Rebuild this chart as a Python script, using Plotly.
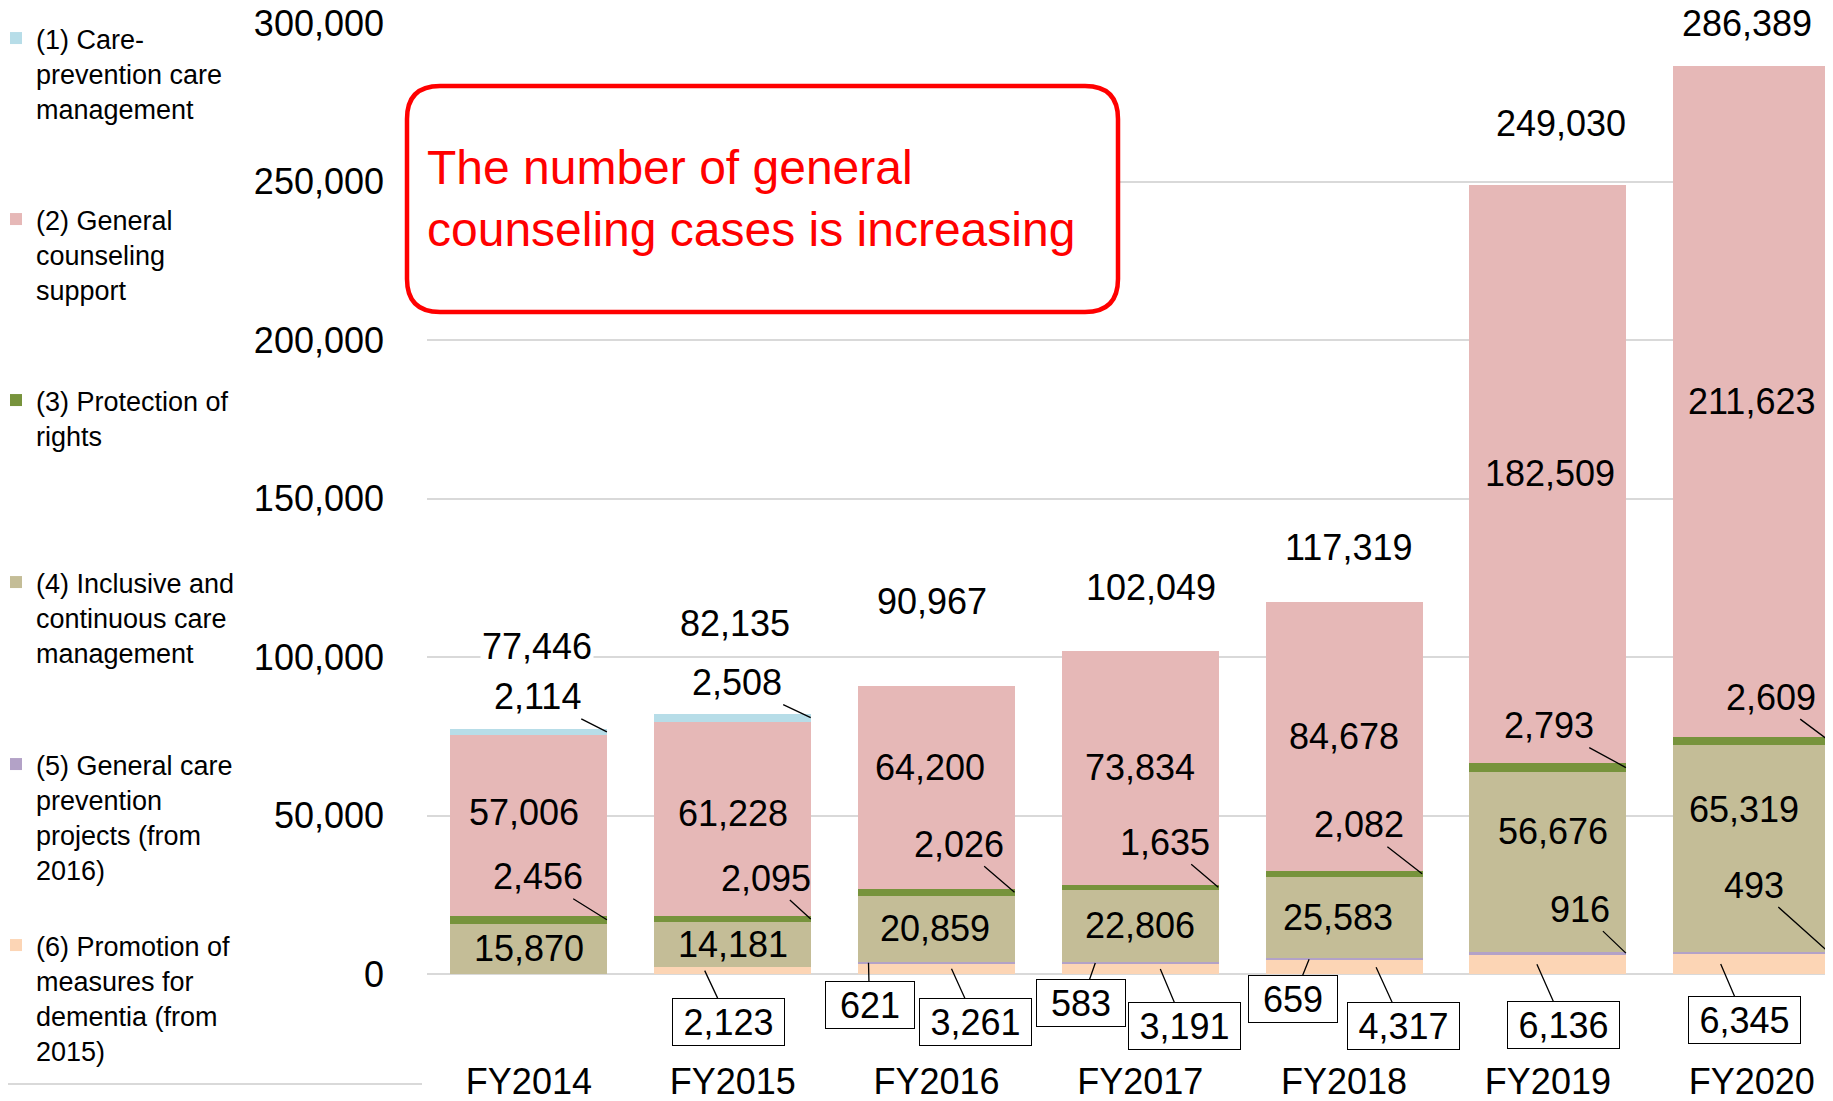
import plotly.graph_objects as go

# Data (cases per fiscal year)
categories = ["FY2014", "FY2015", "FY2016", "FY2017", "FY2018", "FY2019", "FY2020"]
care_prevention_mgmt = [2114, 2508, 0, 0, 0, 0, 0]
general_counseling = [57006, 61228, 64200, 73834, 84678, 182509, 211623]
protection_of_rights = [2456, 2095, 2026, 1635, 2082, 2793, 2609]
inclusive_care_mgmt = [15870, 14181, 20859, 22806, 25583, 56676, 65319]
care_prevention_projects = [0, 0, 621, 583, 659, 916, 493]
dementia_measures = [0, 2123, 3261, 3191, 4317, 6136, 6345]
y_ticks = [0, 50000, 100000, 150000, 200000, 250000, 300000]

FONT = "Liberation Sans, Arial, sans-serif"

# stacking order, bottom to top
series = [
    ("(6) Promotion of<br>measures for<br>dementia (from<br>2015)", dementia_measures, "#fcd5b5"),
    ("(5) General care<br>prevention<br>projects (from<br>2016)", care_prevention_projects, "#b3a2c7"),
    ("(4) Inclusive and<br>continuous care<br>management", inclusive_care_mgmt, "#c4bd97"),
    ("(3) Protection of<br>rights", protection_of_rights, "#77933c"),
    ("(2) General<br>counseling<br>support", general_counseling, "#e6b8b7"),
    ("(1) Care-<br>prevention care<br>management", care_prevention_mgmt, "#b7dde8"),
]

# the page body adds an 8px margin, so the figure is 8px smaller and all page pixels shift by 8
OFF = 8
FW, FH = 1833 - OFF, 1101 - OFF
# plot area in page pixels
L, T, W, H = 427, 23, 1406, 951


def px_x(p):
    return (p - L) / W


def px_y(p):
    return (T + H - p) / H


fig = go.Figure()
legend_line_y = [947, 766, 584, 402, 221, 40]  # first text line of each legend entry
for k, (name, vals, color) in enumerate(series):
    lk = "legend" if k == 5 else "legend%d" % (6 - k)
    fig.add_trace(go.Bar(x=categories, y=vals, name=name, marker=dict(color=color, line=dict(width=0)),
                         legend=lk))

# cumulative bottoms / mids
n = len(categories)
bottoms = []
acc = [0] * n
for _, vals, _ in series:
    bottoms.append(acc[:])
    acc = [a + v for a, v in zip(acc, vals)]
totals = acc
mids = [[b + v / 2 for b, v in zip(bottoms[s], series[s][1])] for s in range(len(series))]

annotations = []
lab_font = dict(family=FONT, size=36, color="black")


def fmt(v):
    return "{:,}".format(v)


# totals above the bars
tot_dx = [8, 2, -5, 11, 4, 13, -5]
tot_up = [82, 90, 84, 63, 55, 61, 43]
for i in range(n):
    annotations.append(dict(x=i, y=totals[i], text=fmt(totals[i]), showarrow=False, xshift=tot_dx[i],
                            yshift=tot_up[i], yanchor="middle", bgcolor="white", font=lab_font))

# centred labels for (2) and (4)
cen_dx = {4: [-5, 0, -7, 0, 0, 2, 0], 2: [0, 0, -2, 0, -6, 5, -8]}
cen_up = {4: [13, 5, 20, 0, 0, 0, 0], 2: [0, 0, 0, 0, 0, 30, 39]}
for s in (4, 2):
    for i in range(n):
        annotations.append(dict(x=i, y=mids[s][i], text=fmt(series[s][1][i]), showarrow=False,
                                xshift=cen_dx[s][i], yshift=cen_up[s][i], font=lab_font))

# labels with leader lines: (anchor dx px, text ax, text ay, boxed)
leaders = {
    5: [(78, -69, -35, False), (78, -74, -35, False)] + [None] * 5,
    3: [(78, -69, -43, False), (78, -45, -41, False), (78, -56, -48, False), (78, -53, -45, False),
        (78, -63, -49, False), (78, -77, -42, False), (78, -59, -44, False)],
    1: [None, None, (-68, 1, 42, True), (-45, -14, 40, True), (-35, -16, 40, True),
        (78, -46, -44, False), (78, -76, -68, False)],
    0: [None, (-28, 24, 51, True), (15, 24, 53, True), (20, 24, 57, True), (32, 27, 59, True),
        (-11, 27, 61, True), (-31, 24, 56, True)],
}
for s, specs in leaders.items():
    for i, spec in enumerate(specs):
        v = series[s][1][i]
        if spec is None or v == 0:
            continue
        dx, ax, ay, boxed = spec
        a = dict(x=i, y=mids[s][i], text=fmt(v), showarrow=True, arrowhead=0, arrowwidth=1.3,
                 arrowcolor="black", xshift=dx, ax=ax, ay=ay, standoff=0, font=lab_font)
        if boxed:
            a.update(bordercolor="black", borderwidth=1, borderpad=1, bgcolor="white",
                     width=109 if v >= 1000 else 86, height=44)
        annotations.append(a)

# callout text
annotations.append(dict(xref="paper", yref="paper", x=px_x(425), y=px_y(199), xanchor="left", yanchor="middle",
                        align="left", showarrow=False,
                        text="The number of general<br>counseling cases is increasing",
                        font=dict(family=FONT, size=48, color="#ff0000")))

# rounded callout box
x0, x1, y0, y1, r = 407, 1118, 86, 312, 33
path = ("M {a},{b} L {c},{b} Q {d},{b} {d},{e} L {d},{f} Q {d},{g} {c},{g} L {a},{g} Q {h},{g} {h},{f} "
        "L {h},{e} Q {h},{b} {a},{b} Z").format(
    a=px_x(x0 + r), b=px_y(y0), c=px_x(x1 - r), d=px_x(x1), e=px_y(y0 + r), f=px_y(y1 - r),
    g=px_y(y1), h=px_x(x0))
shapes = [
    dict(type="path", xref="paper", yref="paper", path=path, line=dict(color="#ff0000", width=4.5),
         fillcolor="white", layer="above"),
    dict(type="line", xref="paper", yref="paper", x0=px_x(8), x1=px_x(422), y0=px_y(1084), y1=px_y(1084),
         line=dict(color="#d9d9d9", width=2)),
]

layout = dict(
    width=FW, height=FH, autosize=False,
    margin=dict(l=L - OFF, r=FW - (L - OFF) - W, t=T - OFF, b=FH - (T - OFF) - H, autoexpand=False),
    paper_bgcolor="white", plot_bgcolor="white",
    font=dict(family=FONT, color="black"),
    barmode="stack", bargap=0.23, showlegend=True,
    xaxis=dict(type="category", range=[-0.5, -0.5 + W / 203.8], showgrid=False, showline=False,
               ticks="", tickfont=dict(size=36), ticklabelstandoff=83, automargin=False),
    yaxis=dict(range=[0, 300000], tickvals=y_ticks, tickformat=",", showgrid=True, gridcolor="#d9d9d9",
               gridwidth=2, zeroline=True, zerolinecolor="#d9d9d9", zerolinewidth=2, showline=False,
               ticks="", tickfont=dict(size=36), ticklabelstandoff=42, automargin=False,
               ticklabeloverflow="allow"),
    annotations=annotations, shapes=shapes,
)
for k in range(6):
    lk = "legend" if k == 5 else "legend%d" % (6 - k)
    layout[lk] = dict(x=px_x(-4), xanchor="left", y=px_y(legend_line_y[k] - 26), yanchor="top",
                      valign="top", font=dict(family=FONT, size=27, color="black"),
                      bgcolor="rgba(0,0,0,0)")

fig.update_layout(**layout)
fig.write_html("out.html")
